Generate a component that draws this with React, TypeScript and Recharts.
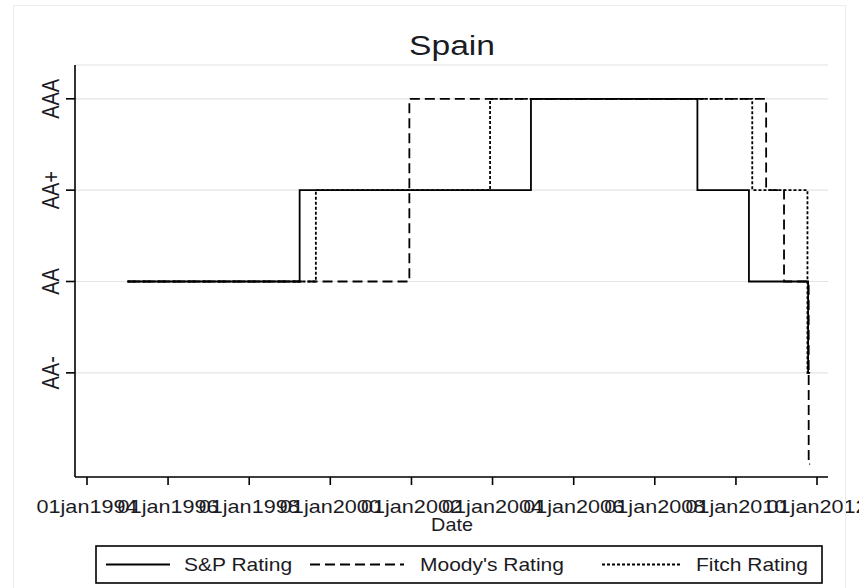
import React from 'react';
import { LineChart, Line, XAxis, YAxis, CartesianGrid } from 'recharts';

// ---- data ----
const spDates = ['1995-01-01', '1999-03-31', '2004-12-12', '2009-01-19', '2010-04-28', '2011-10-13', '2011-10-31'];
const spRatings = [2, 3, 4, 3, 2, 1, 1];

const moodysDates = ['1995-01-01', '2001-12-13', '2010-09-30', '2011-03-10', '2011-10-18', '2011-10-31'];
const moodysRatings = [2, 4, 3, 2, 0, 0];

const fitchDates = ['1995-01-01', '1999-08-24', '2003-12-10', '2010-05-28', '2011-10-07', '2011-10-31'];
const fitchRatings = [2, 3, 4, 3, 1, 1];

const xTickDates = ['1994-01-01', '1996-01-01', '1998-01-01', '2000-01-01', '2002-01-01', '2004-01-01', '2006-01-01', '2008-01-01', '2010-01-01', '2012-01-01'];
const yTickValues = [1, 2, 3, 4];
const yTickLabels = ['AA-', 'AA', 'AA+', 'AAA'];
const xDomainDates = ['1993-09-15', '2012-04-09'];
const yDomain = [-0.14, 4.37];

const seriesNames = ['S&P Rating', "Moody's Rating", 'Fitch Rating'];

// ---- helpers ----
const ts = (s: string) => Date.parse(s + 'T00:00:00Z');
const build = (dates: string[], vals: number[]) => dates.map((d, i) => ({ t: ts(d), v: vals[i] }));

const spData = build(spDates, spRatings);
const moodysData = build(moodysDates, moodysRatings);
const fitchData = build(fitchDates, fitchRatings);
const xTicks = xTickDates.map(ts);

const FONT = '"Liberation Sans", Arial, sans-serif';
const TXT = '#1b1b24';
const SX = 1.2;

const fmtDate = (t: number) => {
  const d = new Date(t);
  return `01jan${d.getUTCFullYear()}`;
};

const XTick = (props: any) => {
  const { x, y, payload } = props;
  return (
    <text
      transform={`translate(${x},${y + 26}) scale(${SX},1)`}
      textAnchor="middle"
      fontFamily={FONT}
      fontSize={18}
      fill={TXT}
    >
      {fmtDate(payload.value)}
    </text>
  );
};

const YTick = (props: any) => {
  const { x, y, payload } = props;
  const idx = yTickValues.indexOf(payload.value);
  return (
    <text
      transform={`translate(${x - 5},${y}) scale(${SX},1) rotate(-90)`}
      textAnchor="middle"
      fontFamily={FONT}
      fontSize={20}
      fill={TXT}
    >
      {idx >= 0 ? yTickLabels[idx] : ''}
    </text>
  );
};

const W = 859;
const H = 588;

export default function App() {
  return (
    <div style={{ position: 'absolute', left: 0, top: 0, width: W, height: H, background: '#fff' }}>
      <LineChart
        width={W}
        height={H}
        margin={{ top: 65, right: 31, left: 15, bottom: 61 }}
      >
        <CartesianGrid horizontal vertical={false} stroke="#e4e4e4" strokeWidth={1.2} />
        <XAxis
          type="number"
          dataKey="t"
          domain={[ts(xDomainDates[0]), ts(xDomainDates[1])]}
          allowDataOverflow
          ticks={xTicks}
          tick={<XTick />}
          tickSize={8}
          height={50}
          axisLine={{ stroke: '#000', strokeWidth: 1.6 }}
          tickLine={{ stroke: '#000', strokeWidth: 1.6 }}
          interval={0}
        />
        <YAxis
          type="number"
          domain={yDomain}
          allowDataOverflow
          ticks={yTickValues}
          tick={<YTick />}
          tickSize={9}
          width={60}
          axisLine={{ stroke: '#000', strokeWidth: 1.6 }}
          tickLine={{ stroke: '#000', strokeWidth: 1.6 }}
          interval={0}
        />
        <Line data={fitchData} dataKey="v" type="stepAfter" stroke="#000" strokeWidth={1.8} strokeDasharray="3 2" dot={false} isAnimationActive={false} />
        <Line data={moodysData} dataKey="v" type="stepAfter" stroke="#000" strokeWidth={1.8} strokeDasharray="10 5" dot={false} isAnimationActive={false} />
        <Line data={spData} dataKey="v" type="stepAfter" stroke="#000" strokeWidth={1.8} dot={false} isAnimationActive={false} />
      </LineChart>
      <svg width={W} height={H} style={{ position: 'absolute', left: 0, top: 0, pointerEvents: 'none' }}>
        <rect x={13.5} y={5.5} width={832} height={600} fill="none" stroke="#ececec" strokeWidth={1} />
        <text transform={`translate(452,55) scale(${SX},1)`} textAnchor="middle" fontFamily={FONT} fontSize={28} fill={TXT}>Spain</text>
        <text transform={`translate(452,531) scale(1.1,1)`} textAnchor="middle" fontFamily={FONT} fontSize={18} fill={TXT}>Date</text>
        <rect x={96} y={546} width={726} height={37} fill="#fff" stroke="#000" strokeWidth={1.6} />
        <line x1={106} x2={170} y1={564.5} y2={564.5} stroke="#000" strokeWidth={1.8} />
        <text transform={`translate(184,571) scale(${SX},1)`} fontFamily={FONT} fontSize={17.5} fill={TXT}>{seriesNames[0]}</text>
        <line x1={310} x2={404} y1={564.5} y2={564.5} stroke="#000" strokeWidth={1.8} strokeDasharray="10 5" />
        <text transform={`translate(420,571) scale(${SX},1)`} fontFamily={FONT} fontSize={17.5} fill={TXT}>{seriesNames[1]}</text>
        <line x1={602} x2={682} y1={564.5} y2={564.5} stroke="#000" strokeWidth={1.8} strokeDasharray="3 2" />
        <text transform={`translate(696,571) scale(${SX},1)`} fontFamily={FONT} fontSize={17.5} fill={TXT}>{seriesNames[2]}</text>
      </svg>
    </div>
  );
}
